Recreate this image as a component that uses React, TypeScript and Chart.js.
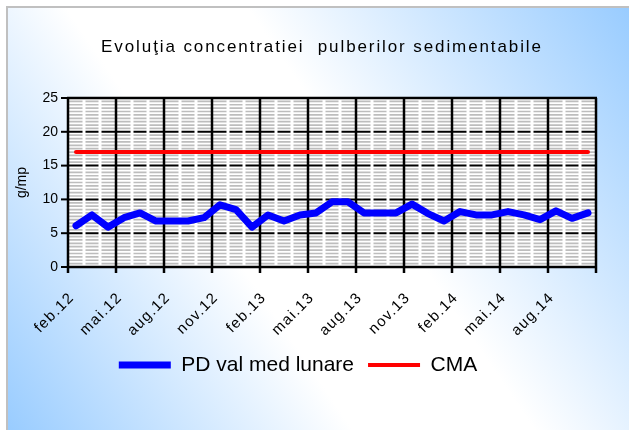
import React, { useEffect, useRef } from 'react';
import { Chart, registerables } from 'chart.js';

Chart.register(...registerables);

const FONT = "'Liberation Sans', Arial, sans-serif";

const titleText = 'Evoluţia concentratiei  pulberilor sedimentabile';
const yAxisTitle = 'g/mp';

const months = [
  'feb.12', 'mar.12', 'apr.12', 'mai.12', 'iun.12', 'iul.12', 'aug.12', 'sep.12', 'oct.12', 'nov.12', 'dec.12', 'ian.13',
  'feb.13', 'mar.13', 'apr.13', 'mai.13', 'iun.13', 'iul.13', 'aug.13', 'sep.13', 'oct.13', 'nov.13', 'dec.13', 'ian.14',
  'feb.14', 'mar.14', 'apr.14', 'mai.14', 'iun.14', 'iul.14', 'aug.14', 'sep.14', 'oct.14',
];

const pdValues = [
  6.1, 7.7, 5.9, 7.3, 8.0, 6.8, 6.8, 6.8, 7.3, 9.2, 8.5, 5.9,
  7.7, 6.8, 7.7, 8.0, 9.65, 9.65, 8.0, 8.0, 8.0, 9.3, 7.9, 6.8,
  8.2, 7.7, 7.7, 8.2, 7.7, 7.0, 8.3, 7.2, 8.0,
];

const cmaValues = [
  17, 17, 17, 17, 17, 17, 17, 17, 17, 17, 17, 17,
  17, 17, 17, 17, 17, 17, 17, 17, 17, 17, 17, 17,
  17, 17, 17, 17, 17, 17, 17, 17, 17,
];

const yMin = 0;
const yMax = 25;
const yStep = 5;
const yMinorStep = 0.5;
const labelEvery = 3;

const bgPlugin = {
  id: 'bgPlugin',
  beforeDraw(chart: any) {
    const { ctx, width, height } = chart;
    ctx.save();
    ctx.fillStyle = '#ffffff';
    ctx.fillRect(0, 0, width, height);
    const g = ctx.createLinearGradient(width, 8, 8, height);
    g.addColorStop(0, '#99ccff');
    g.addColorStop(0.42, '#ffffff');
    g.addColorStop(0.62, '#ffffff');
    g.addColorStop(1, '#99ccff');
    ctx.fillStyle = g;
    ctx.fillRect(8, 8, width - 8, height - 8);
    ctx.strokeStyle = '#c0c0c0';
    ctx.lineWidth = 2;
    ctx.beginPath();
    ctx.moveTo(7, height);
    ctx.lineTo(7, 7);
    ctx.lineTo(width, 7);
    ctx.stroke();
    ctx.restore();
  },
};

// Excel-like letter spacing applied around Chart.js' own text drawing
const spacingPlugin = {
  id: 'spacingPlugin',
  afterLayout(chart: any) {
    const xs = chart.scales.x;
    if (xs && !xs.__spaced) {
      const orig = xs.drawLabels.bind(xs);
      xs.drawLabels = (area: any) => {
        const c = chart.ctx;
        c.save();
        c.letterSpacing = '1.3px';
        orig(area);
        c.restore();
      };
      xs.__spaced = true;
    }
    const tb = chart.titleBlock;
    if (tb && !tb.__spaced) {
      const origT = tb.draw.bind(tb);
      tb.draw = (area: any) => {
        const c = chart.ctx;
        c.save();
        c.letterSpacing = '1.9px';
        c.translate(24, 0);
        origT(area);
        c.restore();
      };
      tb.__spaced = true;
    }
  },
};

const gridPlugin = {
  id: 'gridPlugin',
  beforeDatasetsDraw(chart: any) {
    const { ctx, chartArea, scales } = chart;
    const { left, right, top, bottom } = chartArea;
    const x = scales.x;
    const y = scales.y;
    const n = months.length;
    ctx.save();
    ctx.fillStyle = '#ffffff';
    ctx.fillRect(left, top, right - left, bottom - top);

    const hline = (py: number) => {
      ctx.beginPath();
      ctx.moveTo(left, py);
      ctx.lineTo(right, py);
      ctx.stroke();
    };
    ctx.strokeStyle = '#bdbdbd';
    ctx.lineWidth = 1.7;
    const minorCount = Math.round((yMax - yMin) / yMinorStep);
    for (let k = 1; k < minorCount; k++) {
      const v = yMin + k * yMinorStep;
      if (Math.abs(v % yStep) < 1e-6) continue;
      hline(y.getPixelForValue(v));
    }
    ctx.strokeStyle = '#000000';
    ctx.lineWidth = 2;
    for (let v = yMin + yStep; v < yMax; v += yStep) hline(y.getPixelForValue(v));

    ctx.strokeStyle = '#ffffff';
    ctx.lineWidth = 3;
    for (let i = 1; i < n; i++) {
      if (i % labelEvery === 0) continue;
      const px = x.getPixelForValue(i - 0.5);
      ctx.beginPath();
      ctx.moveTo(px, top + 1);
      ctx.lineTo(px, bottom - 1);
      ctx.stroke();
    }

    ctx.strokeStyle = '#000000';
    ctx.lineWidth = 2.5;
    for (let i = 0; i <= n; i += labelEvery) {
      const px = x.getPixelForValue(i - 0.5);
      ctx.beginPath();
      ctx.moveTo(px, top);
      ctx.lineTo(px, bottom + 6);
      ctx.stroke();
    }
    ctx.beginPath();
    ctx.moveTo(left - 1, y.getPixelForValue(yMax));
    ctx.lineTo(right + 1, y.getPixelForValue(yMax));
    ctx.stroke();
    ctx.beginPath();
    ctx.moveTo(left - 1, y.getPixelForValue(yMin));
    ctx.lineTo(right + 1, y.getPixelForValue(yMin));
    ctx.stroke();
    ctx.lineWidth = 2;
    for (let v = yMin; v <= yMax; v += yStep) {
      const py = y.getPixelForValue(v);
      ctx.beginPath();
      ctx.moveTo(left - 7, py);
      ctx.lineTo(left, py);
      ctx.stroke();
    }
    ctx.restore();
  },
};

export default function App() {
  const ref = useRef<HTMLCanvasElement | null>(null);

  useEffect(() => {
    if (!ref.current) return;
    const chart = new Chart(ref.current, {
      type: 'line',
      data: {
        labels: months,
        datasets: [
          {
            label: 'PD val med lunare',
            data: pdValues,
            borderColor: '#0000ff',
            backgroundColor: '#0000ff',
            borderWidth: 7,
            borderCapStyle: 'round',
            borderJoinStyle: 'round',
            pointRadius: 0,
            tension: 0,
          },
          {
            label: 'CMA',
            data: cmaValues,
            borderColor: '#ff0000',
            backgroundColor: '#ff0000',
            borderWidth: 4,
            borderCapStyle: 'round',
            borderJoinStyle: 'round',
            pointRadius: 0,
            tension: 0,
          },
        ],
      },
      options: {
        responsive: false,
        animation: false,
        events: [],
        layout: { padding: { left: 0, right: 33, top: 0, bottom: 44.5 } },
        plugins: {
          title: {
            display: true,
            text: titleText,
            color: '#000000',
            font: { family: FONT, size: 17, weight: 'normal' },
            padding: { top: 37, bottom: 40.6 },
          },
          legend: {
            position: 'bottom',
            labels: {
              usePointStyle: true,
              pointStyle: 'line',
              pointStyleWidth: 52,
              color: '#000000',
              font: { family: FONT, size: 21 },
              padding: 14,
            },
          },
          tooltip: { enabled: false },
        },
        scales: {
          x: {
            type: 'category',
            offset: true,
            grid: { display: false, drawTicks: false },
            border: { display: false },
            ticks: {
              autoSkip: false,
              maxRotation: 45,
              minRotation: 45,
              padding: 22,
              labelOffset: -4,
              color: '#000000',
              font: { family: FONT, size: 15 },
              callback: (_v: any, i: number) => (i % labelEvery === 0 ? months[i] : ''),
            },
            afterFit: (s: any) => {
              s.height = 73.5;
            },
          },
          y: {
            min: yMin,
            max: yMax,
            ticks: {
              stepSize: yStep,
              padding: 10,
              color: '#000000',
              font: { family: FONT, size: 14 },
            },
            grid: { display: false, drawTicks: false },
            border: { display: false },
            title: {
              display: true,
              text: yAxisTitle,
              color: '#000000',
              font: { family: FONT, size: 14 },
              padding: { top: 14, bottom: 0 },
            },
            afterFit: (s: any) => {
              s.width = 68;
            },
          },
        },
      },
      plugins: [bgPlugin, spacingPlugin, gridPlugin],
    } as any);
    return () => chart.destroy();
  }, []);

  return (
    <div style={{ position: 'absolute', left: 0, top: 0, width: 629, height: 430 }}>
      <canvas ref={ref} width={629} height={430} style={{ display: 'block' }} />
    </div>
  );
}
